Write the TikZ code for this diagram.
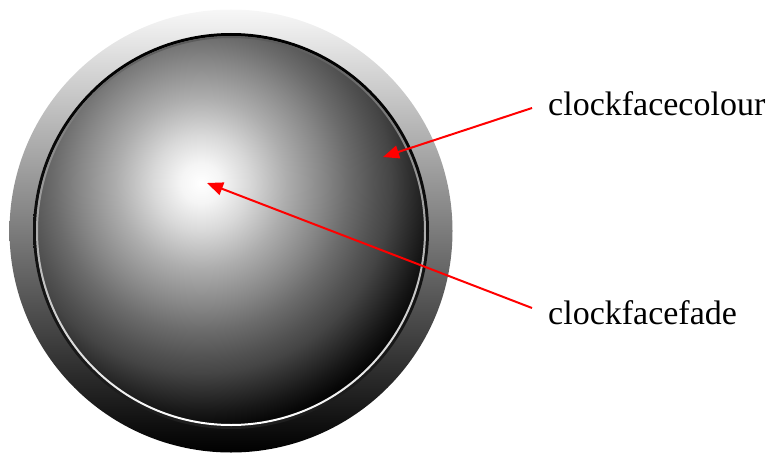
\documentclass[tikz,border=0pt]{standalone}
\usepackage{fontspec}
\setmainfont{Liberation Serif}
\usetikzlibrary{arrows.meta}
\pgfdeclareradialshading{facefade}{\pgfpointorigin}{color(0bp)=(white); color(2bp)=(white!96!black); color(4.8bp)=(white!85!black); color(8.5bp)=(white!68!black); color(12.2bp)=(white!53!black); color(14.8bp)=(white!42!black); color(17.5bp)=(white!32!black); color(19bp)=(white!27!black); color(20.5bp)=(white!20!black); color(22.9bp)=(white!9!black); color(24.4bp)=(white!3!black); color(25.5bp)=(black); color(50bp)=(black)}
\begin{document}
\begin{tikzpicture}[x=1pt,y=-1pt,
  lbl/.style={font=\fontsize{34}{40}\selectfont, inner sep=0pt, anchor=base west},
  callout/.style={draw=red, line width=2pt, -{Triangle[length=16pt,width=13pt]}}]
\useasboundingbox (0,0) rectangle (770,452);
\coordinate (c) at (231,231);
\coordinate (hl) at (201,183);
% outer bezel
\shade[shading angle=42, top color=white!97!black, middle color=white!50!black, bottom color=black] (c) circle[radius=221.5pt];
% face
\begin{scope}
  \clip (c) circle[radius=197pt];
  \shade[shading=facefade] (hl) circle[radius=250pt];
\end{scope}
% dark rim
\shade[even odd rule, shading angle=42, top color=black, bottom color=white!12!black] (c) circle[radius=198pt] (c) circle[radius=195pt];
% light inner edge
\shade[even odd rule, shading angle=42, top color=white!35!black, middle color=white!55!black, bottom color=white] (c) circle[radius=195pt] (c) circle[radius=193pt];
% labels
\node[lbl] (fc) at (548,115) {clockfacecolour};
\node[lbl] (ff) at (548,324) {clockfacefade};
\coordinate (s1) at (532,108);
\coordinate (s2) at (532,308);
\coordinate (t1) at (383,157);
\coordinate (t2) at (207,183);
\draw[callout] (s1) -- (t1);
\draw[callout] (s2) -- (t2);
\end{tikzpicture}
\end{document}
